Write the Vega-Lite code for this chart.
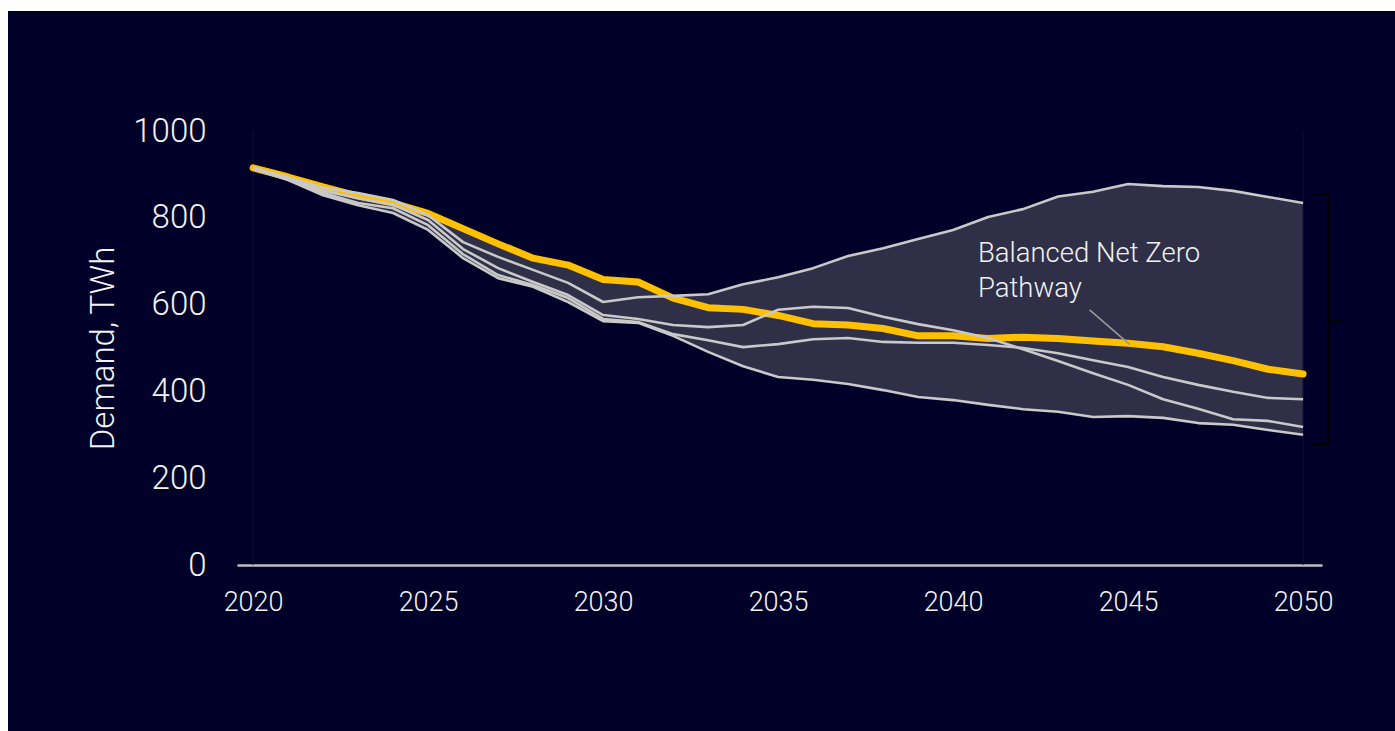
{
  "$schema": "https://vega.github.io/schema/vega-lite/v6.json",
  "width": 1387,
  "height": 720,
  "autosize": {"type": "none"},
  "padding": {"left": 8, "top": 11, "right": 0, "bottom": 0},
  "background": "#ffffff",
  "config": {
    "view": {"fill": "#000029", "stroke": null},
    "font": "Roboto",
    "axis": {"grid": false, "ticks": false, "labelFont": "Roboto", "titleFont": "Roboto", "labelFontWeight": 300, "titleFontWeight": 300, "labelColor": "#f2f2f2", "titleColor": "#f2f2f2"},
    "axisX": {"domainColor": "#bfbfbf", "domainWidth": 2.5, "labelFontSize": 27, "labelPadding": 24},
    "axisY": {"domain": false, "labelFontSize": 33, "labelPadding": 31, "titleFontSize": 33, "titlePadding": 12}
  },
  "datasets": {
    "demand": [
      {"year": 2020, "scenario": "Balanced Net Zero Pathway", "value": 915},
      {"year": 2021, "scenario": "Balanced Net Zero Pathway", "value": 894},
      {"year": 2022, "scenario": "Balanced Net Zero Pathway", "value": 871},
      {"year": 2023, "scenario": "Balanced Net Zero Pathway", "value": 850},
      {"year": 2024, "scenario": "Balanced Net Zero Pathway", "value": 834},
      {"year": 2025, "scenario": "Balanced Net Zero Pathway", "value": 810},
      {"year": 2026, "scenario": "Balanced Net Zero Pathway", "value": 775},
      {"year": 2027, "scenario": "Balanced Net Zero Pathway", "value": 740},
      {"year": 2028, "scenario": "Balanced Net Zero Pathway", "value": 707},
      {"year": 2029, "scenario": "Balanced Net Zero Pathway", "value": 691},
      {"year": 2030, "scenario": "Balanced Net Zero Pathway", "value": 658},
      {"year": 2031, "scenario": "Balanced Net Zero Pathway", "value": 652},
      {"year": 2032, "scenario": "Balanced Net Zero Pathway", "value": 615},
      {"year": 2033, "scenario": "Balanced Net Zero Pathway", "value": 593},
      {"year": 2034, "scenario": "Balanced Net Zero Pathway", "value": 589},
      {"year": 2035, "scenario": "Balanced Net Zero Pathway", "value": 575},
      {"year": 2036, "scenario": "Balanced Net Zero Pathway", "value": 556},
      {"year": 2037, "scenario": "Balanced Net Zero Pathway", "value": 553},
      {"year": 2038, "scenario": "Balanced Net Zero Pathway", "value": 545},
      {"year": 2039, "scenario": "Balanced Net Zero Pathway", "value": 528},
      {"year": 2040, "scenario": "Balanced Net Zero Pathway", "value": 528},
      {"year": 2041, "scenario": "Balanced Net Zero Pathway", "value": 522},
      {"year": 2042, "scenario": "Balanced Net Zero Pathway", "value": 525},
      {"year": 2043, "scenario": "Balanced Net Zero Pathway", "value": 522},
      {"year": 2044, "scenario": "Balanced Net Zero Pathway", "value": 516},
      {"year": 2045, "scenario": "Balanced Net Zero Pathway", "value": 511},
      {"year": 2046, "scenario": "Balanced Net Zero Pathway", "value": 503},
      {"year": 2047, "scenario": "Balanced Net Zero Pathway", "value": 488},
      {"year": 2048, "scenario": "Balanced Net Zero Pathway", "value": 471},
      {"year": 2049, "scenario": "Balanced Net Zero Pathway", "value": 451},
      {"year": 2050, "scenario": "Balanced Net Zero Pathway", "value": 440},
      {"year": 2020, "scenario": "Scenario A", "value": 915},
      {"year": 2021, "scenario": "Scenario A", "value": 893},
      {"year": 2022, "scenario": "Scenario A", "value": 869},
      {"year": 2023, "scenario": "Scenario A", "value": 857},
      {"year": 2024, "scenario": "Scenario A", "value": 841},
      {"year": 2025, "scenario": "Scenario A", "value": 806},
      {"year": 2026, "scenario": "Scenario A", "value": 744},
      {"year": 2027, "scenario": "Scenario A", "value": 710},
      {"year": 2028, "scenario": "Scenario A", "value": 680},
      {"year": 2029, "scenario": "Scenario A", "value": 650},
      {"year": 2030, "scenario": "Scenario A", "value": 606},
      {"year": 2031, "scenario": "Scenario A", "value": 617},
      {"year": 2032, "scenario": "Scenario A", "value": 620},
      {"year": 2033, "scenario": "Scenario A", "value": 624},
      {"year": 2034, "scenario": "Scenario A", "value": 647},
      {"year": 2035, "scenario": "Scenario A", "value": 663},
      {"year": 2036, "scenario": "Scenario A", "value": 684},
      {"year": 2037, "scenario": "Scenario A", "value": 712},
      {"year": 2038, "scenario": "Scenario A", "value": 730},
      {"year": 2039, "scenario": "Scenario A", "value": 751},
      {"year": 2040, "scenario": "Scenario A", "value": 772},
      {"year": 2041, "scenario": "Scenario A", "value": 802},
      {"year": 2042, "scenario": "Scenario A", "value": 820},
      {"year": 2043, "scenario": "Scenario A", "value": 849},
      {"year": 2044, "scenario": "Scenario A", "value": 860},
      {"year": 2045, "scenario": "Scenario A", "value": 878},
      {"year": 2046, "scenario": "Scenario A", "value": 873},
      {"year": 2047, "scenario": "Scenario A", "value": 871},
      {"year": 2048, "scenario": "Scenario A", "value": 862},
      {"year": 2049, "scenario": "Scenario A", "value": 848},
      {"year": 2050, "scenario": "Scenario A", "value": 834},
      {"year": 2020, "scenario": "Scenario B", "value": 915},
      {"year": 2021, "scenario": "Scenario B", "value": 890},
      {"year": 2022, "scenario": "Scenario B", "value": 862},
      {"year": 2023, "scenario": "Scenario B", "value": 845},
      {"year": 2024, "scenario": "Scenario B", "value": 830},
      {"year": 2025, "scenario": "Scenario B", "value": 795},
      {"year": 2026, "scenario": "Scenario B", "value": 728},
      {"year": 2027, "scenario": "Scenario B", "value": 684},
      {"year": 2028, "scenario": "Scenario B", "value": 652},
      {"year": 2029, "scenario": "Scenario B", "value": 622},
      {"year": 2030, "scenario": "Scenario B", "value": 576},
      {"year": 2031, "scenario": "Scenario B", "value": 567},
      {"year": 2032, "scenario": "Scenario B", "value": 553},
      {"year": 2033, "scenario": "Scenario B", "value": 548},
      {"year": 2034, "scenario": "Scenario B", "value": 553},
      {"year": 2035, "scenario": "Scenario B", "value": 588},
      {"year": 2036, "scenario": "Scenario B", "value": 595},
      {"year": 2037, "scenario": "Scenario B", "value": 592},
      {"year": 2038, "scenario": "Scenario B", "value": 572},
      {"year": 2039, "scenario": "Scenario B", "value": 555},
      {"year": 2040, "scenario": "Scenario B", "value": 541},
      {"year": 2041, "scenario": "Scenario B", "value": 523},
      {"year": 2042, "scenario": "Scenario B", "value": 497},
      {"year": 2043, "scenario": "Scenario B", "value": 470},
      {"year": 2044, "scenario": "Scenario B", "value": 442},
      {"year": 2045, "scenario": "Scenario B", "value": 415},
      {"year": 2046, "scenario": "Scenario B", "value": 382},
      {"year": 2047, "scenario": "Scenario B", "value": 360},
      {"year": 2048, "scenario": "Scenario B", "value": 336},
      {"year": 2049, "scenario": "Scenario B", "value": 332},
      {"year": 2050, "scenario": "Scenario B", "value": 318},
      {"year": 2020, "scenario": "Scenario C", "value": 914},
      {"year": 2021, "scenario": "Scenario C", "value": 888},
      {"year": 2022, "scenario": "Scenario C", "value": 857},
      {"year": 2023, "scenario": "Scenario C", "value": 834},
      {"year": 2024, "scenario": "Scenario C", "value": 822},
      {"year": 2025, "scenario": "Scenario C", "value": 783},
      {"year": 2026, "scenario": "Scenario C", "value": 716},
      {"year": 2027, "scenario": "Scenario C", "value": 668},
      {"year": 2028, "scenario": "Scenario C", "value": 645},
      {"year": 2029, "scenario": "Scenario C", "value": 615},
      {"year": 2030, "scenario": "Scenario C", "value": 567},
      {"year": 2031, "scenario": "Scenario C", "value": 560},
      {"year": 2032, "scenario": "Scenario C", "value": 532},
      {"year": 2033, "scenario": "Scenario C", "value": 518},
      {"year": 2034, "scenario": "Scenario C", "value": 502},
      {"year": 2035, "scenario": "Scenario C", "value": 509},
      {"year": 2036, "scenario": "Scenario C", "value": 520},
      {"year": 2037, "scenario": "Scenario C", "value": 523},
      {"year": 2038, "scenario": "Scenario C", "value": 514},
      {"year": 2039, "scenario": "Scenario C", "value": 512},
      {"year": 2040, "scenario": "Scenario C", "value": 512},
      {"year": 2041, "scenario": "Scenario C", "value": 507},
      {"year": 2042, "scenario": "Scenario C", "value": 500},
      {"year": 2043, "scenario": "Scenario C", "value": 488},
      {"year": 2044, "scenario": "Scenario C", "value": 472},
      {"year": 2045, "scenario": "Scenario C", "value": 456},
      {"year": 2046, "scenario": "Scenario C", "value": 433},
      {"year": 2047, "scenario": "Scenario C", "value": 415},
      {"year": 2048, "scenario": "Scenario C", "value": 399},
      {"year": 2049, "scenario": "Scenario C", "value": 385},
      {"year": 2050, "scenario": "Scenario C", "value": 382},
      {"year": 2020, "scenario": "Scenario D", "value": 913},
      {"year": 2021, "scenario": "Scenario D", "value": 887},
      {"year": 2022, "scenario": "Scenario D", "value": 852},
      {"year": 2023, "scenario": "Scenario D", "value": 829},
      {"year": 2024, "scenario": "Scenario D", "value": 811},
      {"year": 2025, "scenario": "Scenario D", "value": 772},
      {"year": 2026, "scenario": "Scenario D", "value": 707},
      {"year": 2027, "scenario": "Scenario D", "value": 661},
      {"year": 2028, "scenario": "Scenario D", "value": 641},
      {"year": 2029, "scenario": "Scenario D", "value": 606},
      {"year": 2030, "scenario": "Scenario D", "value": 562},
      {"year": 2031, "scenario": "Scenario D", "value": 558},
      {"year": 2032, "scenario": "Scenario D", "value": 528},
      {"year": 2033, "scenario": "Scenario D", "value": 491},
      {"year": 2034, "scenario": "Scenario D", "value": 458},
      {"year": 2035, "scenario": "Scenario D", "value": 433},
      {"year": 2036, "scenario": "Scenario D", "value": 427},
      {"year": 2037, "scenario": "Scenario D", "value": 417},
      {"year": 2038, "scenario": "Scenario D", "value": 403},
      {"year": 2039, "scenario": "Scenario D", "value": 387},
      {"year": 2040, "scenario": "Scenario D", "value": 380},
      {"year": 2041, "scenario": "Scenario D", "value": 369},
      {"year": 2042, "scenario": "Scenario D", "value": 359},
      {"year": 2043, "scenario": "Scenario D", "value": 353},
      {"year": 2044, "scenario": "Scenario D", "value": 341},
      {"year": 2045, "scenario": "Scenario D", "value": 343},
      {"year": 2046, "scenario": "Scenario D", "value": 339},
      {"year": 2047, "scenario": "Scenario D", "value": 327},
      {"year": 2048, "scenario": "Scenario D", "value": 323},
      {"year": 2049, "scenario": "Scenario D", "value": 311},
      {"year": 2050, "scenario": "Scenario D", "value": 300}
    ],
    "bracket": [
      {"x": 2050.714, "x2": 2050.714, "y": 279, "y2": 855},
      {"x": 2050.286, "x2": 2050.714, "y": 855, "y2": 855},
      {"x": 2050.286, "x2": 2050.714, "y": 279, "y2": 279},
      {"x": 2050.714, "x2": 2051.143, "y": 564.5, "y2": 564.5}
    ]
  },
  "layer": [
    {
      "description": "Range of all scenarios, shaded between the lowest and highest value each year",
      "data": {"name": "demand"},
      "transform": [
        {"aggregate": [{"op": "min", "field": "value", "as": "lo"}, {"op": "max", "field": "value", "as": "hi"}], "groupby": ["year"]}
      ],
      "mark": {"type": "area", "color": "#2f2f48", "opacity": 1},
      "encoding": {
        "x": {"field": "year", "type": "quantitative", "scale": {"domain": [2019.54, 2050.54], "range": [229, 1314], "nice": false, "zero": false},
              "axis": {"title": null, "offset": -166, "values": [2020, 2025, 2030, 2035, 2040, 2045, 2050], "format": "d"}},
        "y": {"field": "lo", "type": "quantitative", "scale": {"domain": [0, 1000], "range": [554, 120], "nice": false},
              "axis": {"title": "Demand, TWh", "offset": -229, "values": [0, 200, 400, 600, 800, 1000], "format": "d"}},
        "y2": {"field": "hi"}
      }
    },
    {
      "description": "Faint edges of the projection window",
      "data": {"values": [{"year": 2020}, {"year": 2050}]},
      "mark": {"type": "rule", "color": "#0e0e36", "strokeWidth": 1},
      "encoding": {
        "x": {"field": "year", "type": "quantitative"},
        "y": {"datum": 0, "type": "quantitative"},
        "y2": {"datum": 1000}
      }
    },
    {
      "data": {"name": "demand"},
      "transform": [{"filter": "datum.scenario === 'Balanced Net Zero Pathway'"}],
      "mark": {"type": "line", "color": "#ffc000", "strokeWidth": 7, "strokeCap": "round", "strokeJoin": "round"},
      "encoding": {
        "x": {"field": "year", "type": "quantitative"},
        "y": {"field": "value", "type": "quantitative"}
      }
    },
    {
      "data": {"name": "demand"},
      "transform": [{"filter": "datum.scenario !== 'Balanced Net Zero Pathway'"}],
      "mark": {"type": "line", "color": "#c9c9c9", "strokeWidth": 2.6, "strokeJoin": "round"},
      "encoding": {
        "x": {"field": "year", "type": "quantitative"},
        "y": {"field": "value", "type": "quantitative"},
        "detail": {"field": "scenario"}
      }
    },
    {
      "description": "Leader from the label to the pathway line",
      "data": {"values": [{"year": 2043.9, "value": 588, "year2": 2045.05, "value2": 508}]},
      "mark": {"type": "rule", "color": "#9a9a9a", "strokeWidth": 1.6},
      "encoding": {
        "x": {"field": "year", "type": "quantitative"},
        "y": {"field": "value", "type": "quantitative"},
        "x2": {"field": "year2"},
        "y2": {"field": "value2"}
      }
    },
    {
      "data": {"values": [{"year": 2040.71, "value": 698, "label": ["Balanced Net Zero", "Pathway"]}]},
      "mark": {"type": "text", "align": "left", "baseline": "alphabetic", "font": "Roboto", "fontWeight": 300, "fontSize": 27.5, "lineHeight": 35, "color": "#f2f2f2"},
      "encoding": {
        "x": {"field": "year", "type": "quantitative"},
        "y": {"field": "value", "type": "quantitative"},
        "text": {"field": "label"}
      }
    },
    {
      "description": "Bracket spanning the 2050 range",
      "data": {"name": "bracket"},
      "mark": {"type": "rule", "color": "#000000", "strokeWidth": 2},
      "encoding": {
        "x": {"field": "x", "type": "quantitative"},
        "x2": {"field": "x2"},
        "y": {"field": "y", "type": "quantitative"},
        "y2": {"field": "y2"}
      }
    }
  ]
}
